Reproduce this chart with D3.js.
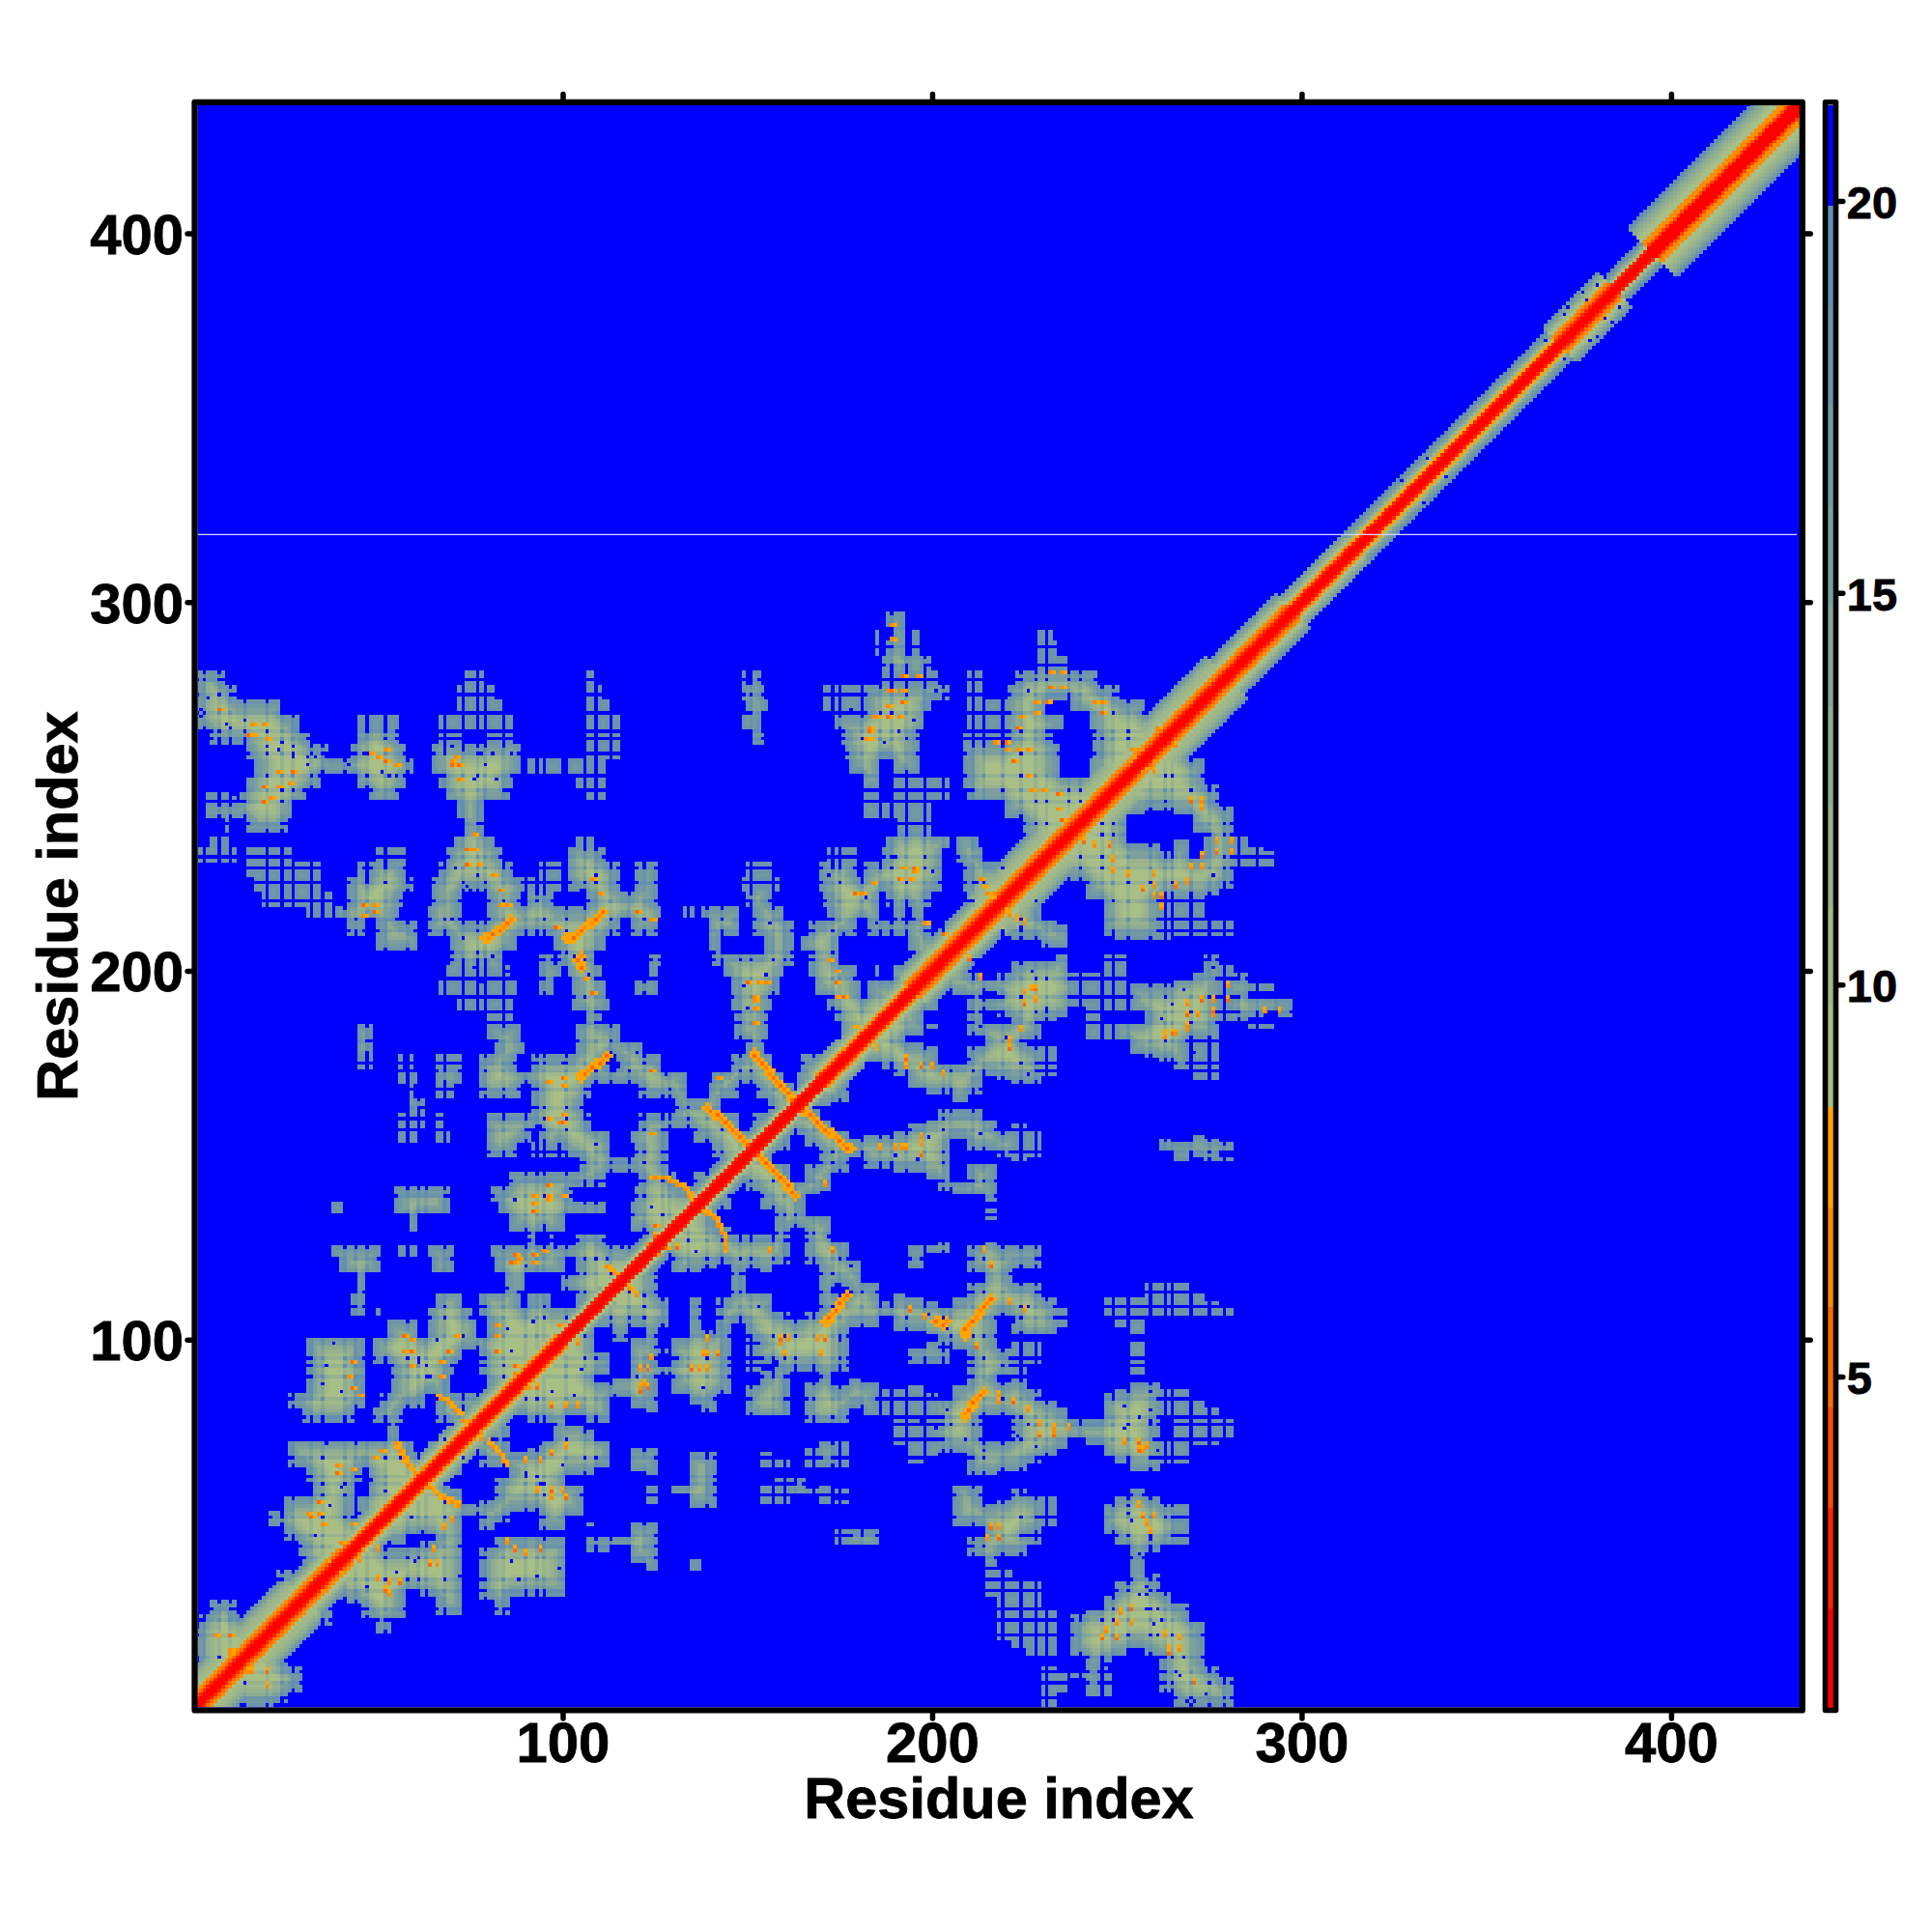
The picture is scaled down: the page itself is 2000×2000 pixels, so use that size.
<!DOCTYPE html>
<html><head><meta charset="utf-8">
<style>html,body{margin:0;padding:0;background:#fff}svg{display:block}text{font-family:"Liberation Sans",Arial,sans-serif;font-weight:bold;fill:#000;stroke:#000;stroke-width:0.8px}</style>
<script src="https://d3js.org/d3.v7.min.js"></script></head><body><svg id="c" width="2000" height="2000"></svg>
<script>
const xTicks=[100,200,300,400], yTicks=[100,200,300,400], barTicks=[5,10,15,20];
const palette=["#ff0000","#ff2400","#ff4800","#ff6a00","#ff8c00","#ffa500","#a8bf85","#a0b98a","#97b28e","#8eac92","#85a696","#7ca09b","#739aa2","#6b94aa","#628eb2","#0000ff"];
const gapRows=[318];
const bandFrom=[1,30,42,100,170,195,215,280,298,315,370,385,395];
const bandKind=["p10","p8","p6","p4","p6","p8","p10","p8","p6","p5","p8","p4","p12"];
const p4=[1,1,2,7,10,13,15];
const p5=[1,1,2,6,8,11,13,15];
const p6=[1,1,2,5,7,9,11,13];
const p8=[1,1,2,4,5,7,8,10,12,14];
const p10=[1,1,2,4,5,7,8,8,9,10,12,14];
const p12=[1,1,1,3,5,5,7,7,8,9,10,11,13,15];
const rimLevels=[14,13,12,10,9,8,7];
const stripeResidues=[3,7,10,14,20,24,27,32,35,41,44,47,52,58,61,63,68,73,77,79,84,90,93,95,101,106,109,113,118,122,127,129,134,139,143,148,151,157,160,163,168,173,175,181,186,189,193,198,203,205,211,214,219,224,228,231,237,240,246,249,253,259,263,265,270,275,279,283,288,293];
const rowY=[296,292,288,284,280,276,272,268,264,260,256,252,248,244,240,236,232,228,224,220,216,212,208,204,200,196,192,188,184,180,176,172,168,164,160,156,152,148,144,140,136,132,128,124,120,116,112,108,104,100,96,92,88,84,80,76,72,68,64,60,56,52,48,44,40,36,32,28,24,20,16];
const rowSpans=[
"188-192",
"~185-186 189-193 ~195-196 ~228-232",
"~185-186 188-193 ~195-196 ~228-233",
"187-199 ~229-236",
"1-8 ~73-79 149 151-153 ~187-201 ~210-213 223-244 ~107-108",
"1-11 ~72-81 149-154 ~171-180 182-204 ~210-213 221-250 ~107-110",
"1-24 ~72-83 150-155 ~171-180 182-199 ~210-220 221-231 238-257 ~107-112",
"1-28 ~44-55 ~67-86 149-153 174-198 ~210-220 221-235 243-262 ~107-115",
"5-31 44-55 ~67-72 ~80-86 151-154 176-196 ~209-220 221-232 244-264 ~107-115",
"15-36 43-57 65-88 177-196 209-234 244-260 ~107-115",
"17-37 38-59 65-88 ~90-99 ~101-111 178-186 189-196 209-234 243-256",
"15-34 44-57 67-86 ~104-111 181-186 ~190-204 209-252",
"~3-11 13-30 48-55 68-85 ~107-111 ~181-186 ~190-204 210-248",
"3-27 72-78 ~182-199 220-244",
"~9-10 15-25 73-78 ~191-199 225-240",
"~5-9 71-81 ~104-108 188-205 207-212",
"~1-11 ~15-27 ~50-57 69-83 101-111 ~172-179 187-203 207-214",
"~15-35 44-46 48-57 67-86 ~94-99 101-115 120-125 ~150-156 170-179 182-203 209-221",
"~17-35 42-59 65-89 ~90-99 102-115 120-125 ~148-158 170-202 209-221",
"~19-37 42-56 65-72 80-88 90-97 107-125 150-156 171-186 188-199 210-221",
"~31-37 39-55 64-72 80-127 ~133-135 138-148 152-160 172-186 190-192 195-198 209-221",
"42-46 50-60 64-115 119-125 139-148 152-162 167-179 183-199 203-212",
"50-61 70-87 98-111 140-142 155-162 165-175 194-208",
"70-84 94-97 99-109 124-126 141-162 167-175 195-204",
"~69-85 94-99 101-110 124-125 144-160 167-179 185-186 189-200",
"~67-87 94-97 103-111 120-125 146-158 168-180 183-196",
"~72-86 103-112 146-156 172-192",
"~80-86 106-110 147-155 174-188",
"44-48 80-88 104-115 147-155 175-184",
"44-48 82-89 104-121 150-154 177-180",
"~44-48 56 59 ~66-72 77-87 92-112 115-127 146-157 165-176",
"~56-60 66-72 77-133 141-159 164-172",
"58-59 ~66-70 78-88 92-107 121-134 139-147 153-165",
"58-62 92-105 131-143 156-164",
"~56-62 ~66-68 79-107 121-148 152-160",
"~56-60 ~66-69 79-91 94-112 119-128 136-150",
"80-87 ~92-98 100-113 120-128 141-152",
"105-117 118-128 145-148",
"86-111 121-130 136-144",
"55-69 81-102 120-138 139-140",
"~38-40 55-69 83-111 119-136",
"58-60 86-100 118-132",
"91-93 97 104-111 123-128",
"38-50 ~56-60 64-70 81-124",
"40-50 65-70 82-100 104-120",
"44-46 85-90 100-116",
"43-46 66-73 78-88 91-96 104-112",
"43-46 50 64-75 78-108",
"53-61 64-77 80-104",
"31-46 49-77 78-100",
"31-46 49-73 78-96",
"31-47 54-70 78-92",
"31-46 54-69 80-88",
"26-47 51-63 66-76 78-84",
"30-43 49-56 66-72 76-80",
"53-55 70-75",
"26-59 64-72",
"26-62 66-68",
"31-45 47-60 63-64",
"32-44 47-60",
"25-43 45-56",
"21-43 49-52",
"25-42 44-48",
"29-44",
"30-40",
"23-29 31-36",
"27-32",
"5-11",
"2-12",
"1-15",
"1-16"];
const strokeCells="79,209 80,209 81,210 82,211 83,211 84,212 85,213 86,214 101,209 102,209 103,209 104,210 105,211 106,212 107,213 108,213 109,214 110,215 111,216 105,204 104,203 105,202 105,201 152,178 152,177 153,176 154,175 155,174 156,173 156,172 157,171 158,170 159,169 160,168 161,167 162,166 162,165 139,163 140,162 141,161 142,161 143,160 144,159 145,158 146,157 147,156 148,155 149,154 150,153 151,152 105,171 105,172 106,172 107,173 108,174 109,175 110,175 111,176 112,177";
const thinStrokeCells="124,144 125,144 126,144 127,144 128,144 129,143 130,143 131,142 132,142 133,141 134,140 134,139 135,138 112,120 113,119 114,118 115,117 116,116 66,85 67,84 68,84 69,83 70,82 71,81 72,80 73,78 74,77 55,72 55,71 56,70 56,69 57,68 57,67 58,66 59,65 60,64 179,185 180,183 181,181 213,225 214,223 215,221 216,220 254,260 255,258 254,257";
const spotCells="7,271 16,267 16,264 15,264 20,263 19,267 27,254 23,250 26,251 19,246 21,247 23,254 19,250 48,259 50,258 52,257 52,260 55,256 70,256 70,257 71,258 72,256 72,252 76,237 74,233 75,233 76,233 74,229 77,229 81,226 83,222 83,218 85,218 46,218 46,215 49,218 49,216 110,221 108,225 98,212 189,294 189,290 192,280 196,280 188,276 189,276 192,276 188,272 192,273 184,269 185,269 188,269 191,269 183,266 183,265 183,263 182,263 220,262 220,260 217,262 195,228 195,227 192,228 191,225 194,225 184,224 179,221 181,221 198,213 203,210 152,193 152,192 150,197 153,197 155,197 120,216 124,214 174,200 174,197 174,193 172,203 176,193 232,281 235,281 232,277 235,277 228,273 231,273 224,269 228,270 223,266 223,260 226,260 222,257 226,253 230,249 234,248 227,249 234,244 235,241 246,273 244,273 246,270 261,266 257,260 125,131 125,128 123,126 128,125 152,190 152,186 124,173 124,156 106,198 108,194 142,171 92,137 92,135 96,138 96,139 96,142 100,139 92,139 86,121 87,121 88,122 92,123 92,121 95,124 87,123 100,161 99,159 100,159 96,160 96,170 100,171 100,169 99,104 87,93 87,91 89,90 57,101 59,100 57,97 59,97 59,93 71,101 69,97 67,94 67,90 43,94 42,90 45,85 43,87 82,104 82,101 82,97 51,70 49,68 39,64 39,66 43,65 52,55 54,53 31,53 32,52 34,53 35,50 34,56 43,50 45,47 41,44 36,40 32,35 33,36 40,45 6,20 10,20 10,15 10,16";
const voidCells="23,260 27,259 27,261 27,258 14,268 10,266 9,267 7,265 3,265 3,279 2,271 2,269 4,274 12,249 12,248 11,248 20,261 24,262 31,258 33,258 36,259 36,258 31,256 51,254 53,253 55,253 46,259 42,256 68,260 70,261 73,260 78,259 77,259 79,256 86,259 81,259 82,252 76,252 74,223 75,222 71,228 77,226 70,214 73,209 81,204 76,201 78,197 85,200 96,206 103,204 107,199 101,195 105,222 109,226 187,262 191,265 195,268 181,270 201,276 186,280 174,263 178,271 172,226 182,220 190,231 200,227 176,210 185,213 204,233 212,224 218,214 231,263 240,268 226,276 224,284 236,272 246,263 253,265 250,278 47,98 61,94 64,90 72,94 36,93 40,86 38,99 35,88 52,87 66,100 86,97 85,103 92,105 94,96 102,112 96,116 90,120 85,114 98,125 95,131 87,138 102,141 106,137 110,143 109,153 94,158 88,165 100,175 90,173 115,174 120,178 128,172 106,193 125,163 110,166 130,154 122,148 124,136 129,132 122,122 116,125 112,122 106,118 110,114 150,190 155,199 147,207 156,213 149,196 28,65 35,68 40,60 37,55 33,47 48,62 56,68 52,59 36,72 44,72 30,58 372,380 376,384 380,386 371,378 377,382 382,388 366,371 327,333 334,339";

const x=d3.scaleLinear().domain([1.12,434.8]).range([204.3,1863]);
const y=d3.scaleLinear().domain([0.2,434.8]).range([1767.7,108.6]);
const bar=d3.scaleLinear().domain([5,20]).range([1425,208]);
const svg=d3.select("#c");
const parse=s=>s.split(" ").map(p=>p.split(",").map(Number));
const stripe=new Set(stripeResidues);
const N=435, W=N+2;
const mask=d3.range(W*W).map(()=>0);
const id=(a,b)=>a*W+b;
rowY.forEach((ry,k)=>{rowSpans[k].split(" ").forEach(tok=>{const sparse=tok[0]==="~",sp=sparse?tok.slice(1):tok;const [a,b]=sp.split("-").map(Number);const e=b||a;
  for(let c=a;c<=e;c++)for(let r=ry-2;r<=ry+1;r++){if(c<=r&&!(sparse&&(stripe.has(c)||stripe.has(r)))){mask[id(c,r)]=1;mask[id(r,c)]=1;}}});});
const kinds={p4,p5,p6,p8,p10,p12};
const profile=(a,b)=>{const seg=d3.bisectRight(bandFrom,(a+b)/2)-1;return kinds[bandKind[Math.max(seg,0)]];};
const full=mask.slice();
for(let a=1;a<=N;a++)for(let b=1;b<=N;b++){if(Math.abs(a-b)<profile(a,b).length&&!full[id(a,b)])full[id(a,b)]=2;}
const dist=full.map(v=>v?1e6:0);
for(let a=1;a<=N;a++)for(let b=1;b<=N;b++){const k=id(a,b);if(dist[k])dist[k]=Math.min(dist[k],dist[id(a-1,b)]+1,dist[id(a,b-1)]+1);}
for(let a=N;a>=1;a--)for(let b=N;b>=1;b--){const k=id(a,b);if(dist[k])dist[k]=Math.min(dist[k],dist[id(a+1,b)]+1,dist[id(a,b+1)]+1);}
const level=new Map();
for(let a=1;a<=N;a++)for(let b=1;b<=N;b++){const k=id(a,b);
  if(mask[k]===1){
    const d=dist[k],sa=stripe.has(a),sb=stripe.has(b);
    let l=rimLevels[Math.min(d,rimLevels.length)-1];
    if(d===1&&(sa||sb))l=16;
    else if(d===2&&sa&&sb)l=16;
    else if(sa&&sb)l=(a+b)%3===0?16:15;
    else if(sa||sb)l=Math.min(15,l+2);
    level.set(k,l);
  }
}
const put=(a,b,l)=>{if(a<1||b<1||a>N||b>N)return;level.set(id(a,b),l);level.set(id(b,a),l);};
parse(voidCells).forEach(([a,b])=>put(a,b,16));
parse(spotCells).forEach(([a,b],i)=>{put(a,b,i%3===0?4:5);put(a+1,b,6);});
parse(strokeCells).forEach(([a,b],i)=>{[[1,0],[0,-1],[-1,0],[0,1]].forEach(([p,q])=>put(a+p,b+q,6));put(a,b,i%2?5:4);});
parse(thinStrokeCells).forEach(([a,b],i)=>{put(a+1,b,6);put(a,b,i%2?5:6);});
for(let a=1;a<=N;a++)for(let b=1;b<=N;b++){
  const pr=profile(a,b),d=Math.abs(a-b);
  if(d<pr.length){const k=id(a,b),cur=level.get(k);
    if(cur===undefined||pr[d]<=6||(pr[d]<cur&&cur!==16)||(cur===16&&d<5))level.set(k,cur&&cur<=6&&d>=3?cur:pr[d]);}
}
const cells=[];level.forEach((l,k)=>{if(l<16)cells.push({a:Math.floor(k/W),b:k%W,l});});
svg.append("clipPath").attr("id","pc").append("rect").attr("x",x.range()[0]).attr("y",y.range()[1]).attr("width",x.range()[1]-x.range()[0]).attr("height",y.range()[0]-y.range()[1]);
const plot=svg.append("g").attr("clip-path","url(#pc)");
plot.append("rect").attr("x",x.range()[0]).attr("y",y.range()[1]).attr("width",x.range()[1]-x.range()[0]).attr("height",y.range()[0]-y.range()[1]).attr("fill",palette[15]);
const cw=x(2)-x(1),ch=y(1)-y(2);
plot.append("g").attr("shape-rendering","crispEdges").selectAll("rect").data(cells).join("rect")
 .attr("x",d=>x(d.a-0.5)).attr("y",d=>y(d.b+0.5)).attr("width",cw+0.5).attr("height",ch+0.5).attr("fill",d=>palette[d.l-1]);
plot.selectAll("line.gap").data(gapRows).join("line").attr("class","gap").attr("x1",x.range()[0]).attr("x2",x.range()[1]-3).attr("y1",d=>y(d+0.3)).attr("y2",d=>y(d+0.3)).attr("stroke","#d8d8ff").attr("stroke-width",1.2);
const fr=(sel,xa,xb,ya,yb,w)=>sel.append("rect").attr("x",xa).attr("y",ya).attr("width",xb-xa).attr("height",yb-ya).attr("fill","none").attr("stroke","#000").attr("stroke-width",w).attr("stroke-linejoin","round");
fr(svg,x.range()[0]-2.8,x.range()[1]+2.8,y.range()[1]-2.8,y.range()[0]+2.8,6.2);
const styleAxis=(g,size)=>{g.select(".domain").remove();g.selectAll(".tick line").attr("stroke","#000").attr("stroke-width",5.5).attr("stroke-linecap","round");g.selectAll("text").style("font-size",size+"px");};
const ax=(gen,tx,ty,fn)=>{const g=svg.append("g").attr("transform",`translate(${tx},${ty})`).call(gen);styleAxis(g,58);if(fn)fn(g);return g;};
ax(d3.axisBottom(x).tickValues(xTicks).tickFormat(d3.format("d")).tickSize(6).tickPadding(2),0,1772.9,g=>g.selectAll("text").attr("dy",null).attr("y",51));
ax(d3.axisTop(x).tickValues(xTicks).tickFormat("").tickSize(6),0,103.4);
ax(d3.axisLeft(y).tickValues(yTicks).tickFormat(d3.format("d")).tickSize(5).tickPadding(6),199.1,0,g=>g.selectAll("text").attr("dy","0.36em").attr("x",-9));
ax(d3.axisRight(y).tickValues(yTicks).tickFormat("").tickSize(6),1868.2,0);
svg.append("text").attr("x",1034).attr("y",1882).attr("text-anchor","middle").style("font-size","59.5px").text("Residue index");
svg.append("text").attr("transform","translate(80,938) rotate(-90)").attr("text-anchor","middle").style("font-size","59.5px").text("Residue index");
const lo=bar.invert(y.range()[0]),hi=bar.invert(y.range()[1]),step=(hi-lo)/palette.length;
svg.append("g").attr("shape-rendering","crispEdges").selectAll("rect").data(palette).join("rect")
 .attr("x",1889.5).attr("width",11).attr("y",(d,i)=>bar(lo+(i+1)*step)).attr("height",step*(bar(0)-bar(1))+0.5).attr("fill",d=>d);
fr(svg,1889.5,1900.5,y.range()[1]-2.8,y.range()[0]+2.8,5.6);
const bg=svg.append("g").attr("transform","translate(1902.8,0)").call(d3.axisRight(bar).tickValues(barTicks).tickSize(5).tickPadding(5));
styleAxis(bg,47);bg.selectAll("text").attr("dy","0.37em").attr("x",9);
</script></body></html>
